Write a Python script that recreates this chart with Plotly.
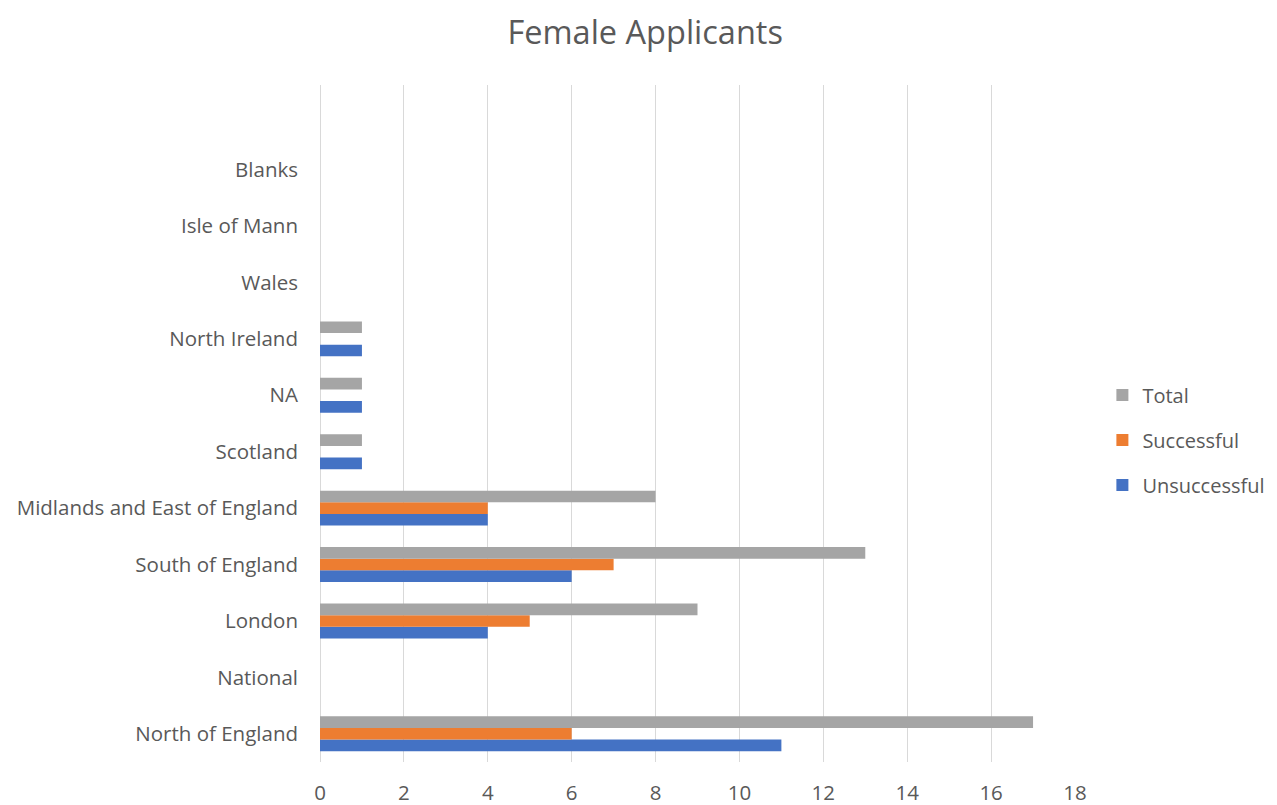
import plotly.graph_objects as go

regions = ["North of England", "National", "London", "South of England",
           "Midlands and East of England", "Scotland", "NA", "North Ireland",
           "Wales", "Isle of Mann", "Blanks"]
unsuccessful = [11, 0, 4, 6, 4, 1, 1, 1, 0, 0, 0]
successful = [6, 0, 5, 7, 4, 0, 0, 0, 0, 0, 0]
total = [17, 0, 9, 13, 8, 1, 1, 1, 0, 0, 0]

TEXT = "#595959"
FONT = "Open Sans, Segoe UI, sans-serif"

fig = go.Figure()
series = [("Unsuccessful", unsuccessful, "#4472C4", 3),
          ("Successful", successful, "#ED7D31", 2),
          ("Total", total, "#A5A5A5", 1)]
for name, vals, col, rank in series:
    fig.add_trace(go.Bar(
        y=regions, x=vals, name=name, orientation="h",
        marker=dict(color=col, line=dict(width=0)),
        legendgroup=name, legendrank=rank,
    ))

fig.update_layout(
    title=dict(text="Female Applicants", x=0.499, xanchor="center", y=0.970, yanchor="middle",
               font=dict(size=32.5, color=TEXT, family=FONT)),
    barmode="group", bargap=0.38, bargroupgap=0,
    width=1277, height=805,
    plot_bgcolor="white", paper_bgcolor="white",
    margin=dict(l=312, r=210, t=77, b=51),
    font=dict(family=FONT, color=TEXT, size=20.5),
    xaxis=dict(range=[0, 18], dtick=2, showgrid=True, gridcolor="#D9D9D9", gridwidth=1,
               zeroline=True, zerolinecolor="#D9D9D9", zerolinewidth=1, automargin=False,
               tickfont=dict(size=20.5, color=TEXT), ticks="", ticklabelstandoff=16),
    yaxis=dict(categoryorder="array", categoryarray=regions, range=[-0.5, 11.5],
               showgrid=False, zeroline=False, ticks="", ticklabelstandoff=21,
               automargin=False, tickfont=dict(size=20.5, color=TEXT)),
    legend=dict(xref="container", yref="container", x=0.857, y=0.4634,
                xanchor="left", yanchor="middle",
                traceorder="grouped", tracegroupgap=16,
                font=dict(size=20, color=TEXT), itemwidth=30),
)

fig.write_html("out.html")
